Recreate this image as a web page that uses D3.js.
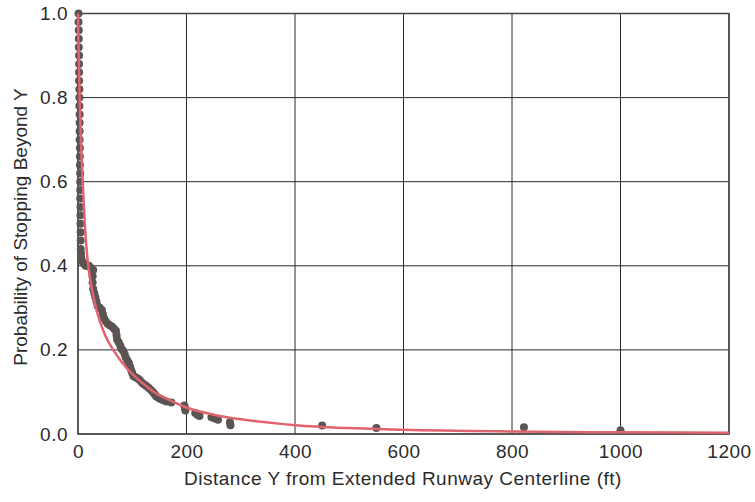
<!DOCTYPE html>
<html>
<head>
<meta charset="utf-8">
<script src="https://cdn.jsdelivr.net/npm/d3@7"></script>
<style>
  body { margin: 0; background: #fff; }
  #chart { width: 755px; height: 502px; }
  text { font-family: "Liberation Sans", Arial, sans-serif; fill: #2b2b2b; }
</style>
</head>
<body>
<div id="chart"></div>
<script>
// Observed points (distance ft, probability of stopping beyond Y)
const obsX = [1,1,1.5,1.5,1.5,2,2,2,2,2.5,2.5,2.5,3,3,3,3,3.5,3.5,3.5,4,4,4,4,4.5,4.5,4.5,5,5,5,5.5,6,
  8,11,14,17,20,24,28,
  27,27,28,30,32,34,36,40,44,46,48,51,55,59,63,67,70,71,72,75,78,80,83,86,88,91,94,96,98,100,102,
  106,110,114,118,122,126,130,134,138,141,144,148,152,157,163,172,
  196,197,198,216,220,224,246,252,258,280,281,450,550,822,1000];
const obsP = [1.0,0.98,0.96,0.94,0.92,0.90,0.88,0.86,0.84,0.82,0.80,0.78,0.76,0.74,0.72,0.70,0.68,0.66,0.64,0.62,0.60,0.58,0.56,0.54,0.52,0.50,0.48,0.46,0.44,0.43,0.42,
  0.41,0.405,0.40,0.40,0.40,0.395,0.39,
  0.375,0.36,0.345,0.335,0.325,0.315,0.305,0.30,0.295,0.285,0.275,0.268,0.262,0.258,0.255,0.25,0.245,0.235,0.225,0.218,0.21,0.203,0.198,0.19,0.182,0.175,0.168,0.16,0.152,0.145,0.138,
  0.135,0.132,0.128,0.122,0.118,0.114,0.11,0.105,0.10,0.095,0.09,0.086,0.083,0.08,0.077,0.075,
  0.068,0.062,0.056,0.05,0.046,0.043,0.04,0.037,0.034,0.028,0.021,0.02,0.014,0.016,0.009];

// Fitted curve
const fitX = [0,1,3,6,9,13,18,25,35,50,65,80,100,120,140,170,200,250,300,400,500,600,800,1000,1200];
const fitP = [1.0,0.92,0.8,0.68,0.59,0.49,0.41,0.35,0.29,0.235,0.2,0.172,0.143,0.12,0.1,0.08,0.063,0.046,0.035,0.021,0.014,0.01,0.006,0.004,0.003];

const xTicks = [0,200,400,600,800,1000,1200];
const yTicks = [0,0.2,0.4,0.6,0.8,1.0];

let margin = {top: 13.5, right: 26, bottom: 68, left: 78},
    width = 755 - margin.left - margin.right,
    height = 502 - margin.top - margin.bottom;

let svg = d3.select("#chart")
    .append("svg")
      .attr("width", 755)
      .attr("height", 502)
    .append("g")
      .attr("transform", "translate(" + margin.left + "," + margin.top + ")");

let x = d3.scaleLinear().domain([0, 1200]).range([0, width]);
let y = d3.scaleLinear().domain([0, 1]).range([height, 0]);

//Rejilla
svg.append("g")
    .selectAll("line")
    .data(xTicks)
    .enter().append("line")
      .attr("x1", d => x(d)).attr("x2", d => x(d))
      .attr("y1", 0).attr("y2", height)
      .attr("stroke", "#2a2a2a").attr("stroke-width", 1);

svg.append("g")
    .selectAll("line")
    .data(yTicks)
    .enter().append("line")
      .attr("x1", 0).attr("x2", width)
      .attr("y1", d => y(d)).attr("y2", d => y(d))
      .attr("stroke", "#2a2a2a").attr("stroke-width", 1);

svg.append("rect")
    .attr("width", width).attr("height", height)
    .attr("fill", "none").attr("stroke", "#444").attr("stroke-width", 1.5);

//Ejes
let xAxis = svg.append("g")
    .attr("transform", "translate(0," + height + ")")
    .call(d3.axisBottom(x).tickValues(xTicks).tickSize(0).tickPadding(11).tickFormat(d3.format("d")));
xAxis.select(".domain").remove();
xAxis.selectAll("text").style("font-size", "19px").style("letter-spacing", "0.5px");

let yAxis = svg.append("g")
    .call(d3.axisLeft(y).tickValues(yTicks).tickSize(0).tickPadding(10).tickFormat(d3.format(".1f")));
yAxis.select(".domain").remove();
yAxis.selectAll("text").style("font-size", "19px").style("letter-spacing", "0.5px");

//Puntos observados
let pts = obsX.map((d, i) => ({x: d, p: obsP[i]}));
svg.append("g")
    .selectAll("circle")
    .data(pts)
    .enter().append("circle")
      .attr("cx", d => x(d.x))
      .attr("cy", d => y(d.p))
      .attr("r", 4)
      .attr("fill", "#5c5452");

//Curva ajustada
let fit = fitX.map((d, i) => ({x: d, p: fitP[i]}));
svg.append("path")
    .datum(fit)
    .attr("fill", "none")
    .attr("stroke", "#e0646e")
    .attr("stroke-width", 2.5)
    .attr("d", d3.line().x(d => x(d.x)).y(d => y(d.p)).curve(d3.curveMonotoneX));

//Títulos
svg.append("text")
    .attr("x", 403 - margin.left)
    .attr("y", 485 - margin.top)
    .attr("text-anchor", "middle")
    .style("font-size", "19px")
    .style("letter-spacing", "0.5px")
    .text("Distance Y from Extended Runway Centerline (ft)");

svg.append("text")
    .attr("transform", "translate(" + (27 - margin.left) + "," + (227 - margin.top) + ")rotate(-90)")
    .attr("text-anchor", "middle")
    .style("font-size", "19px")
    .text("Probability of Stopping Beyond Y");
</script>
</body>
</html>
